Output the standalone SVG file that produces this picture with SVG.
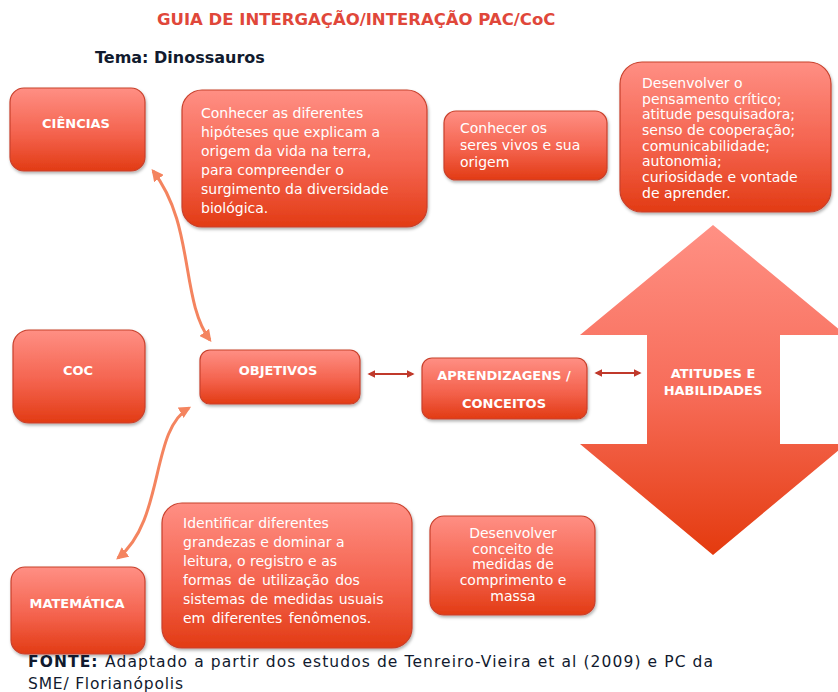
<svg xmlns="http://www.w3.org/2000/svg" width="838" height="692" viewBox="0 0 838 692">
<defs>
<linearGradient id="g" x1="0" y1="0" x2="0" y2="1">
<stop offset="0" stop-color="#ff8f84"/>
<stop offset="0.55" stop-color="#f4634e"/>
<stop offset="1" stop-color="#e23b14"/>
</linearGradient>
<linearGradient id="ga" x1="0" y1="0" x2="0" y2="1">
<stop offset="0" stop-color="#ff9084"/>
<stop offset="0.5" stop-color="#f76d5a"/>
<stop offset="1" stop-color="#e43a0e"/>
</linearGradient>
<filter id="sh" x="-10%" y="-10%" width="120%" height="130%">
<feDropShadow dx="1" dy="2" stdDeviation="1.5" flood-color="#000" flood-opacity="0.3"/>
</filter>
<marker id="ah" viewBox="0 0 10 10" refX="8" refY="5" markerWidth="4" markerHeight="4" orient="auto-start-reverse">
<path d="M0,0 L10,5 L0,10 z" fill="#f4845f"/>
</marker>
<marker id="dh" viewBox="0 0 10 10" refX="8" refY="5" markerWidth="4" markerHeight="4" orient="auto-start-reverse">
<path d="M0,0 L10,5 L0,10 z" fill="#c0392b"/>
</marker>
</defs>
<style>
.box{fill:url(#g);stroke:#c8402c;stroke-width:1.2;filter:url(#sh)}
.lbl{font-family:"DejaVu Sans",sans-serif;fill:#fff;font-size:13px;font-weight:bold;text-anchor:middle}
.body{font-family:"DejaVu Sans",sans-serif;fill:#fff;font-size:14px}
.curve{fill:none;stroke:#f4845f;stroke-width:3}
.dbl{fill:none;stroke:#c0392b;stroke-width:2}
.head{font-family:"DejaVu Sans",sans-serif;font-weight:bold}
</style>
<rect width="838" height="692" fill="#fff"/>
<text class="head" x="157" y="25" font-size="16.5" fill="#e0473a">GUIA DE INTERGAÇÃO/INTERAÇÃO PAC/CoC</text>
<text class="head" x="95" y="63" font-size="16" fill="#111a2e">Tema: Dinossauros</text>

<g id="connectors">
<path class="curve" d="M153,171 C195,225 180,300 210,340" marker-start="url(#ah)" marker-end="url(#ah)"/>
<path class="curve" d="M189,408 C150,430 165,520 118,558" marker-start="url(#ah)" marker-end="url(#ah)"/>
<path class="dbl" d="M369,374 L413,374" marker-start="url(#dh)" marker-end="url(#dh)"/>
<path class="dbl" d="M596,373 L640,373" marker-start="url(#dh)" marker-end="url(#dh)"/>
</g>

<g id="ciencias">
<rect class="box" x="10" y="88" width="135" height="83" rx="14"/>
<text class="lbl" x="76" y="128">CIÊNCIAS</text>
</g>
<g id="hipoteses">
<rect class="box" x="182" y="90" width="245" height="137" rx="20"/>
<text class="body"><tspan x="201" y="118">Conhecer as diferentes</tspan><tspan x="201" y="137">hipóteses que explicam a</tspan><tspan x="201" y="156">origem da vida na terra,</tspan><tspan x="201" y="175">para compreender o</tspan><tspan x="201" y="194">surgimento da diversidade</tspan><tspan x="201" y="213">biológica.</tspan></text>
</g>
<g id="seres">
<rect class="box" x="444" y="111" width="163" height="69" rx="12"/>
<text class="body"><tspan x="460" y="133">Conhecer os</tspan><tspan x="460" y="150">seres vivos e sua</tspan><tspan x="460" y="167">origem</tspan></text>
</g>
<g id="desenvolver">
<rect class="box" x="620" y="62" width="211" height="150" rx="22"/>
<text class="body"><tspan x="642" y="88">Desenvolver o</tspan><tspan x="642" y="104">pensamento crítico;</tspan><tspan x="642" y="119">atitude pesquisadora;</tspan><tspan x="642" y="135">senso de cooperação;</tspan><tspan x="642" y="151">comunicabilidade;</tspan><tspan x="642" y="166">autonomia;</tspan><tspan x="642" y="182">curiosidade e vontade</tspan><tspan x="642" y="198">de aprender.</tspan></text>
</g>
<g id="coc">
<rect class="box" x="13" y="330" width="132" height="93" rx="16"/>
<text class="lbl" x="78" y="375">COC</text>
</g>
<g id="objetivos">
<rect class="box" x="200" y="350" width="160" height="54" rx="10"/>
<text class="lbl" x="278" y="375">OBJETIVOS</text>
</g>
<g id="aprendizagens">
<rect class="box" x="422" y="358" width="165" height="61" rx="10"/>
<text class="lbl" x="504" y="380">APRENDIZAGENS /</text>
<text class="lbl" x="504" y="408">CONCEITOS</text>
</g>
<g id="atitudes">
<path d="M713,225 L846,335 L780,335 L780,444 L846,444 L713,555 L580,444 L647,444 L647,335 L580,335 Z" fill="url(#ga)"/>
<text class="lbl" x="713" y="378">ATITUDES E</text>
<text class="lbl" x="713" y="395">HABILIDADES</text>
</g>
<g id="matematica">
<rect class="box" x="11" y="567" width="134" height="87" rx="14"/>
<text class="lbl" x="77" y="608">MATEMÁTICA</text>
</g>
<g id="identificar">
<rect class="box" x="162" y="503" width="250" height="145" rx="20"/>
<text class="body" font-size="15"><tspan x="183" y="528">Identificar diferentes</tspan><tspan x="183" y="547">grandezas e dominar a</tspan><tspan x="183" y="566">leitura, o registro e as</tspan><tspan x="183" y="585" word-spacing="2">formas  de utilização dos</tspan><tspan x="183" y="604" word-spacing="1">sistemas  de medidas usuais</tspan><tspan x="183" y="623" word-spacing="2">em  diferentes fenômenos.</tspan></text>
</g>
<g id="medidas">
<rect class="box" x="430" y="516" width="165" height="99" rx="14"/>
<text class="body" text-anchor="middle"><tspan x="513" y="538">Desenvolver</tspan><tspan x="513" y="554">conceito de</tspan><tspan x="513" y="569">medidas de</tspan><tspan x="513" y="585">comprimento e</tspan><tspan x="513" y="601">massa</tspan></text>
</g>
<text class="head" x="28" y="667" font-size="15.5" fill="#111a2e" textLength="685" lengthAdjust="spacing">FONTE: <tspan font-weight="normal">Adaptado a partir dos estudos de Tenreiro-Vieira et al (2009) e PC da</tspan></text>
<text x="28" y="689" font-family="DejaVu Sans, sans-serif" font-size="15.5" fill="#111a2e" letter-spacing="0.8">SME/ Florianópolis</text>
</svg>
